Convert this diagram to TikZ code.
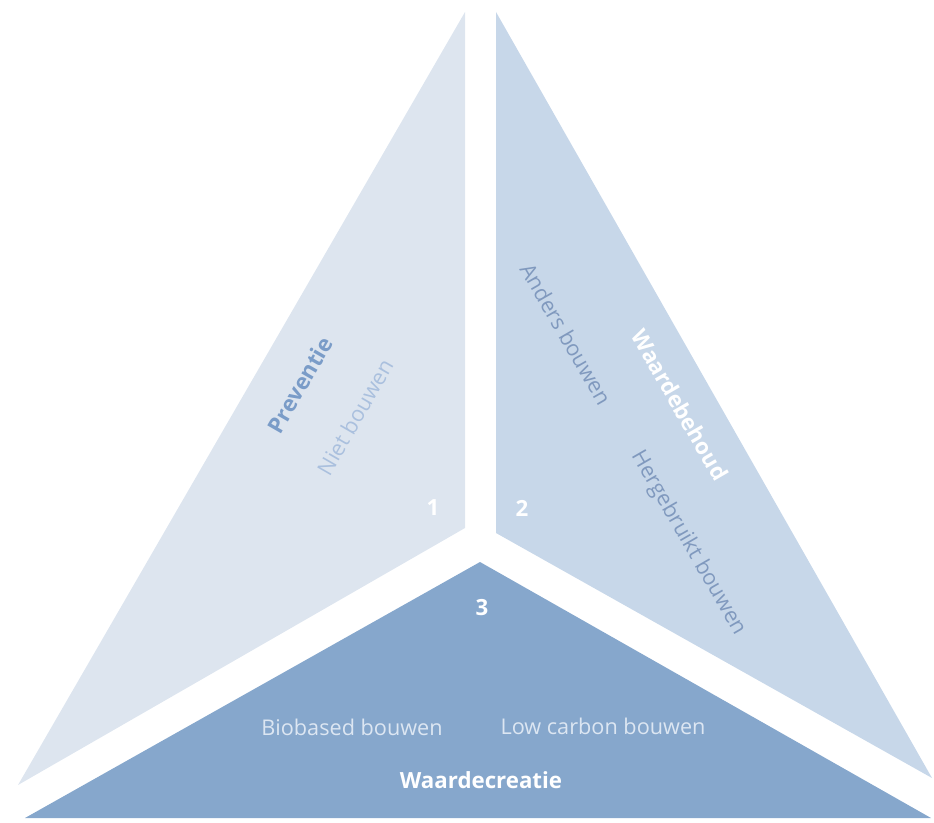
\documentclass[tikz,border=0pt]{standalone}
\usepackage{fontspec}
\setmainfont{Open Sans}
\definecolor{vlakeen}{RGB}{221,229,239}
\definecolor{vlaktwee}{RGB}{199,215,233}
\definecolor{vlakdrie}{RGB}{134,167,204}
\definecolor{kopblauw}{RGB}{122,156,200}
\definecolor{lichtblauw}{RGB}{170,192,222}
\definecolor{middenblauw}{RGB}{128,153,190}
\definecolor{bleekblauw}{RGB}{220,230,242}
\tikzset{
	kop/.style={font=\fontsize{19}{21}\selectfont\bfseries},
	sub/.style={font=\fontsize{18.5}{20}\selectfont},
	nummer/.style={font=\fontsize{19}{21}\selectfont\bfseries, text=white}
}

\begin{document}
\begin{tikzpicture}[x=0.03cm, y=-0.03cm]
		%%%%% START %%%%%
		\useasboundingbox (0, 0) rectangle (934, 823);
		
		\fill[vlakeen] (465, 12) -- (465, 528) -- (18, 785) -- cycle;
		\fill[vlaktwee] (496, 12) -- (932, 778) -- (496, 533) -- cycle;
		\fill[vlakdrie] (480, 562) -- (931, 818) -- (25, 818) -- cycle;
		
		% 1 preventie
		\node[kop, text=kopblauw, rotate=60] (preventie) at (300, 385) {Preventie};
		\node[sub, text=lichtblauw, rotate=60] (nietbouwen) at (355, 417) {Niet bouwen};
		\node[nummer] (een) at (433, 508) {1};
		
		% 2 waardebehoud
		\node[sub, text=middenblauw, rotate=-60] (andersbouwen) at (566, 334) {Anders bouwen};
		\node[kop, text=white, rotate=-60] (waardebehoud) at (680, 405) {Waardebehoud};
		\node[sub, text=middenblauw, rotate=-60] (hergebruikt) at (688, 543) {Hergebruikt bouwen};
		\node[nummer] (twee) at (522, 508) {2};
		
		% 3 waardecreatie
		\node[nummer] (drie) at (482, 608) {3};
		\node[sub, text=bleekblauw] (biobased) at (352, 727) {Biobased bouwen};
		\node[sub, text=bleekblauw] (lowcarbon) at (603, 726) {Low carbon bouwen};
		\node[kop, text=white] (waardecreatie) at (481, 780) {Waardecreatie};
		%%%%% END %%%%%
\end{tikzpicture}
\end{document}
